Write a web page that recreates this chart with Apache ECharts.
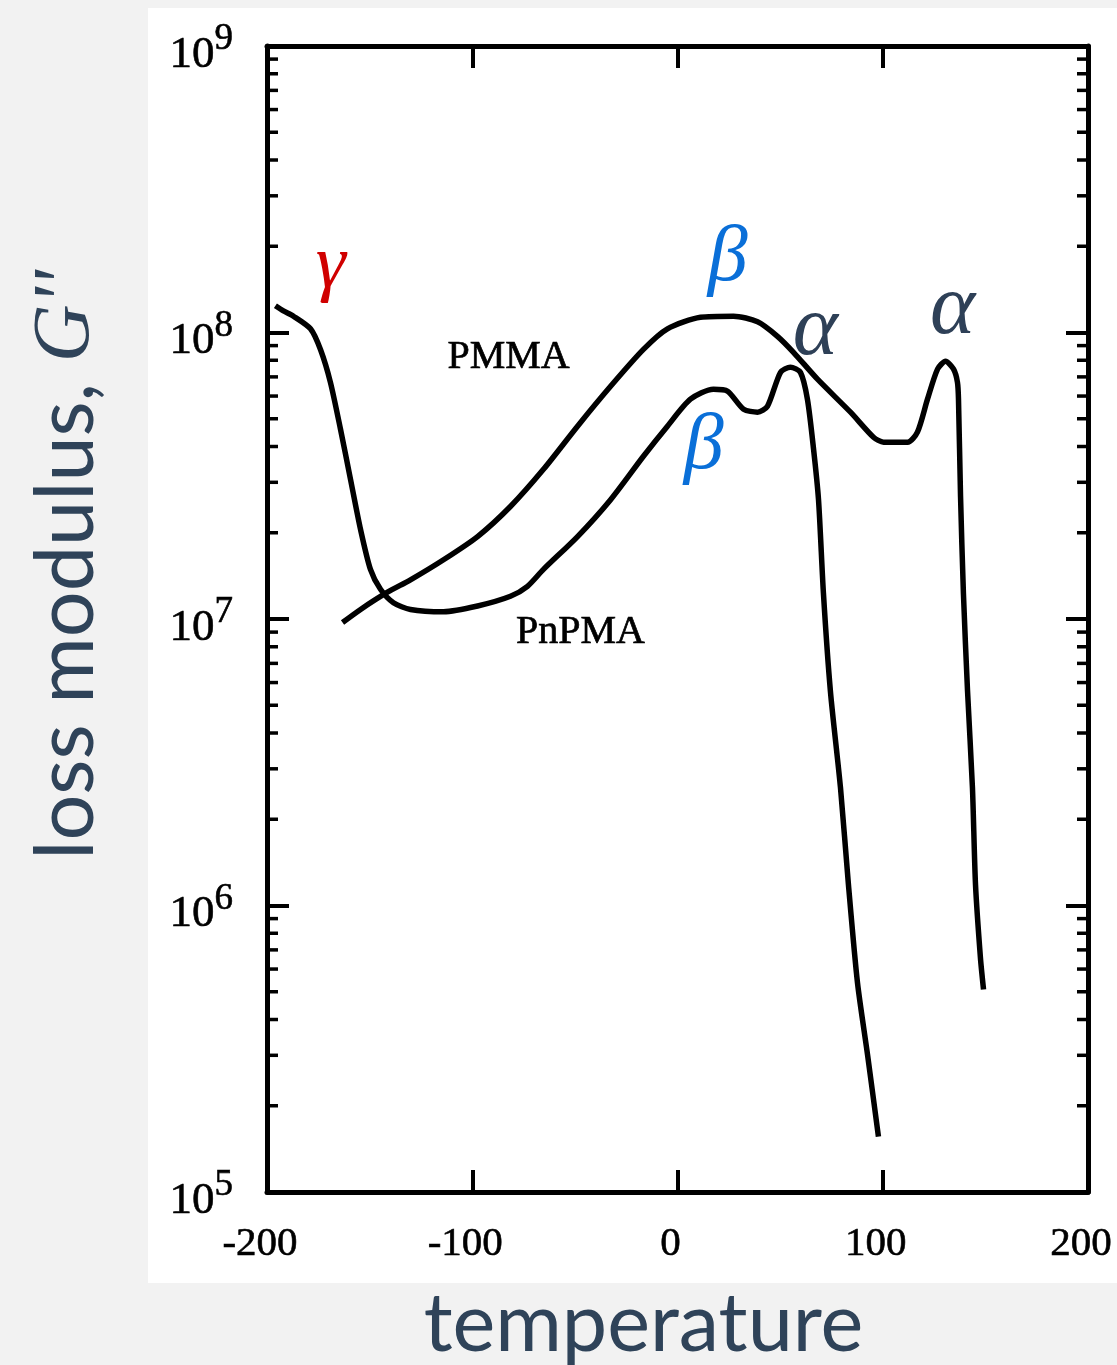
<!DOCTYPE html>
<html>
<head>
<meta charset="utf-8">
<script src="https://cdn.jsdelivr.net/npm/echarts@6/dist/echarts.min.js"></script>
<style>
html,body{margin:0;padding:0;background:#f2f2f2;}
#c{width:1117px;height:1365px;}
</style>
</head>
<body>
<div id="c"></div>
<script>
// ---- data ----
const pnpmaT = [-195.9,-192.0,-187.1,-178.8,-173.9,-169.1,-164.2,-159.3,-154.4,-149.6,-144.7,-138.4,-130.1,-114.0,-97.4,-81.4,-73.1,-65.3,-48.7,-32.6,-16.6,-4.9,6.3,17.5,24.4,32.2,39.0,43.8,50.2,55.0,59.9,63.3,66.3,68.7,71.1,74.5,79.4,83.3,87.7,92.6,97.9];
const pnpmaG = [1.24e8,1.19e8,1.14e8,1.03e8,8.7e7,6.7e7,4.6e7,3.07e7,2.05e7,1.49e7,1.27e7,1.14e7,1.08e7,1.06e7,1.11e7,1.20e7,1.30e7,1.49e7,1.94e7,2.61e7,3.70e7,4.71e7,5.85e7,6.34e7,6.24e7,5.40e7,5.27e7,5.52e7,7.26e7,7.57e7,7.26e7,5.85e7,3.91e7,2.61e7,1.23e7,5.6e6,2.58e6,1.18e6,5.37e5,3.01e5,1.56e5];
const pmmaT = [-163.2,-154.4,-141.3,-130.1,-114.0,-97.4,-81.4,-65.3,-48.7,-32.6,-16.6,-4.9,11.2,27.3,39.0,48.7,56.5,68.2,84.3,95.5,100.4,112.1,116.9,121.8,126.7,130.6,134.5,136.4,136.9,137.9,139.3,141.3,143.7,145.2,147.6,149.1];
const pmmaG = [9.72e6,1.08e7,1.24e7,1.37e7,1.61e7,1.94e7,2.47e7,3.33e7,4.71e7,6.49e7,8.73e7,1.03e8,1.13e8,1.14e8,1.09e8,9.7e7,8.53e7,6.87e7,5.27e7,4.31e7,4.14e7,4.14e7,4.49e7,5.85e7,7.45e7,7.94e7,7.45e7,6.70e7,5.85e7,2.68e7,1.23e7,5.62e6,2.58e6,1.18e6,6.56e5,5.09e5];

const xTicks = [-200,-100,0,100,200];
const yExponents = [5,6,7,8,9];
const minorMultipliers = [2,3,4,5,6,7,8,9];

const annoText = ['γ','β','β','α','α','PMMA','PnPMA'];
const annoKind = ['gamma','beta','beta','alpha','alpha','name','name'];
const annoT = [-169,24.4,12.7,67.2,134,-82.3,-47.3];
const annoG = [1.69e8,1.8e8,4.0e7,1.01e8,1.19e8,8.2e7,8.98e6];

// ---- build ----
const pair = (xs, ys) => xs.map((x, i) => [x, ys[i]]);
const minorVals = [];
for (let e = yExponents[0]; e < yExponents[yExponents.length - 1]; e++) {
  minorMultipliers.forEach(m => minorVals.push(m * Math.pow(10, e)));
}
const kindStyle = {
  gamma: {color: '#d00000', fontSize: 76, fontStyle: 'italic', fontFamily: 'Liberation Serif'},
  beta: {color: '#0a6fd8', fontSize: 80, fontStyle: 'italic', fontFamily: 'Liberation Serif'},
  alpha: {color: '#2e4057', fontSize: 86, fontStyle: 'italic', fontFamily: 'Liberation Serif'},
  name: {color: '#000', fontSize: 40, fontFamily: 'Liberation Serif', textBorderColor: '#000', textBorderWidth: 0.7}
};
const annoData = annoText.map((t, i) => ({
  value: [annoT[i], annoG[i]],
  name: t,
  label: Object.assign({show: true, position: 'inside', formatter: t, opacity: 1}, kindStyle[annoKind[i]])
}));

const serifLab = {fontFamily: 'Liberation Serif', color: '#000', textBorderColor: '#000', textBorderWidth: 0.6};
const axisLn = {onZero: false, lineStyle: {color: '#000', width: 5}};
const axisTk = {inside: true, length: 22, lineStyle: {color: '#000', width: 4}};
const chart = echarts.init(document.getElementById('c'), null, {renderer: 'canvas'});
chart.setOption({
  backgroundColor: '#f2f2f2',
  animation: false,
  graphic: [{type: 'rect', z: -100, shape: {x: 148, y: 8, width: 969, height: 1275}, style: {fill: '#ffffff'}}],
  grid: {left: 267, right: 29, top: 46, bottom: 173, containLabel: false, outerBoundsMode: 'none'},
  xAxis: [{
    type: 'value', min: xTicks[0], max: xTicks[xTicks.length - 1], interval: 100, position: 'bottom',
    axisLine: axisLn, axisTick: axisTk,
    axisLabel: Object.assign({fontSize: 41, margin: 32, padding: [0, 14, 0, 0]}, serifLab),
    splitLine: {show: false},
    name: 'temperature', nameLocation: 'middle', nameGap: 92,
    nameTextStyle: {fontFamily: 'Lato', fontSize: 81, color: '#2f4359', padding: [0, 68, 0, 0]}
  }, {
    type: 'value', min: xTicks[0], max: xTicks[xTicks.length - 1], interval: 100, position: 'top',
    axisLine: axisLn, axisTick: axisTk,
    axisLabel: {show: false}, splitLine: {show: false}
  }],
  yAxis: [{
    type: 'log', logBase: 10, min: Math.pow(10, yExponents[0]), max: Math.pow(10, yExponents[yExponents.length - 1]), position: 'left',
    axisLine: axisLn, axisTick: axisTk,
    axisLabel: {
      margin: 34,
      formatter: v => '{b|10}{s|' + Math.round(Math.log10(v)) + '}',
      rich: {
        b: {fontFamily: 'Liberation Serif', fontSize: 45, color: '#000', lineHeight: 50, padding: [18, 0, 0, 0], textBorderColor: '#000', textBorderWidth: 0.6},
        s: {fontFamily: 'Liberation Serif', fontSize: 37, color: '#000', lineHeight: 37, verticalAlign: 'top', textBorderColor: '#000', textBorderWidth: 0.6}
      }
    },
    splitLine: {show: false},
    name: '{a|loss modulus, }{g|G\'\'}', nameLocation: 'middle', nameGap: 160, nameRotate: 90,
    nameTextStyle: {
      padding: [0, 0, 0, 108],
      rich: {
        a: {fontFamily: 'Lato', fontSize: 81, color: '#2f4359'},
        g: {fontFamily: 'Liberation Serif', fontStyle: 'italic', fontSize: 80, color: '#2f4359'}
      }
    }
  }, {
    type: 'log', logBase: 10, min: Math.pow(10, yExponents[0]), max: Math.pow(10, yExponents[yExponents.length - 1]), position: 'right',
    axisLine: axisLn, axisTick: axisTk,
    axisLabel: {show: false}, splitLine: {show: false}
  }],
  series: [{
    name: 'PnPMA', type: 'line', data: pair(pnpmaT, pnpmaG), showSymbol: false, symbol: 'none',
    smooth: 0.25, lineStyle: {color: '#000', width: 5.5}
  }, {
    name: 'PMMA', type: 'line', data: pair(pmmaT, pmmaG), showSymbol: false, symbol: 'none',
    smooth: 0.25, lineStyle: {color: '#000', width: 5.5}
  }, {
    name: 'minorTicks', type: 'custom', silent: true, clip: false,
    data: minorVals.map(v => [v]),
    renderItem: (params, api) => {
      const v = api.value(0);
      const l = api.coord([-200, v]);
      const r = api.coord([200, v]);
      const st = {stroke: '#000', lineWidth: 3.5};
      return {type: 'group', children: [
        {type: 'line', shape: {x1: l[0], y1: l[1], x2: l[0] + 11, y2: l[1]}, style: st},
        {type: 'line', shape: {x1: r[0], y1: r[1], x2: r[0] - 11, y2: r[1]}, style: st}
      ]};
    },
    encode: {y: 0}
  }, {
    name: 'labels', type: 'scatter', symbolSize: 0, data: annoData, silent: true,
    itemStyle: {opacity: 1}
  }]
});
</script>
</body>
</html>
